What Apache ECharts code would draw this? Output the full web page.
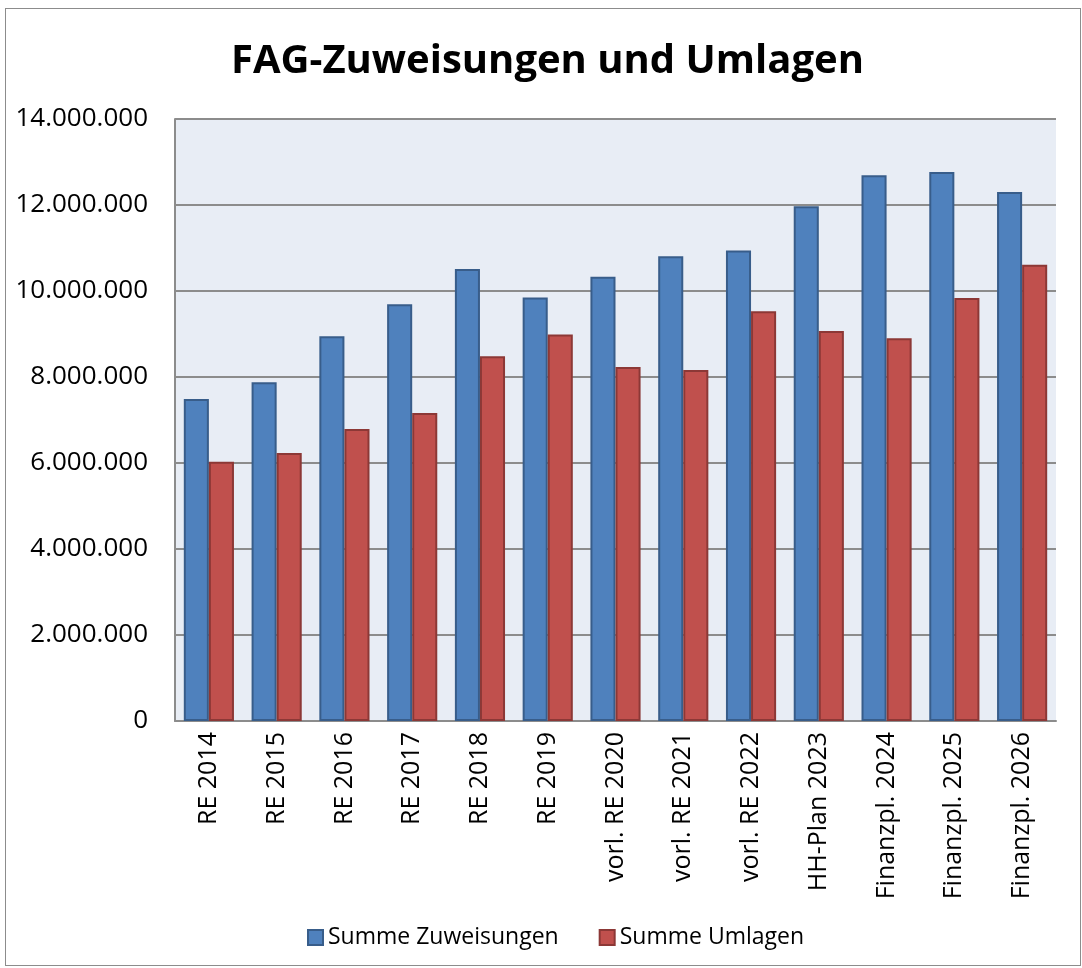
<!DOCTYPE html>
<html>
<head>
<meta charset="utf-8">
<script src="https://cdn.jsdelivr.net/npm/echarts@6/dist/echarts.min.js"></script>
<style>
  html, body { margin: 0; padding: 0; background: #fff; }
  #frame { position: absolute; left: 5px; top: 8px; width: 1074px; height: 956px; border: 1px solid #8c8c8c; }
  #chart { position: absolute; left: 0; top: 0; width: 1082px; height: 968px; }
</style>
</head>
<body>
<div id="frame"></div>
<div id="chart"></div>
<script>
const categories = ["RE 2014", "RE 2015", "RE 2016", "RE 2017", "RE 2018", "RE 2019",
  "vorl. RE 2020", "vorl. RE 2021", "vorl. RE 2022", "HH-Plan 2023",
  "Finanzpl. 2024", "Finanzpl. 2025", "Finanzpl. 2026"];
const zuweisungen = [7490000, 7880000, 8950000, 9690000, 10510000, 9850000,
  10330000, 10810000, 10940000, 11970000, 12690000, 12770000, 12300000];
const umlagen = [6030000, 6230000, 6790000, 7160000, 8480000, 8990000,
  8230000, 8160000, 9530000, 9070000, 8900000, 9840000, 10610000];

const font = "Open Sans";

function fmt(v) {
  return String(v).replace(/\B(?=(\d{3})+(?!\d))/g, ".");
}

const chart = echarts.init(document.getElementById("chart"));
chart.setOption({
  animation: false,
  title: {
    text: "FAG-Zuweisungen und Umlagen",
    left: 226,
    top: 37,
    textStyle: { fontFamily: font, fontSize: 40, fontWeight: "bold", color: "#000" }
  },
  legend: {
    bottom: 14,
    left: 302,
    icon: "rect",
    itemWidth: 15,
    itemHeight: 15,
    itemGap: 40,
    textStyle: { fontFamily: font, fontSize: 23, color: "#000" },
    data: ["Summe Zuweisungen", "Summe Umlagen"]
  },
  grid: {
    left: 175, right: 26, top: 119, bottom: 247,
    show: true, backgroundColor: "#e8edf5", borderWidth: 0
  },
  xAxis: {
    type: "category",
    data: categories,
    axisLine: { lineStyle: { color: "#8c8c8c", width: 2 } },
    axisTick: { show: false },
    axisLabel: { rotate: 90, fontFamily: font, fontSize: 25, color: "#000", margin: 11 }
  },
  yAxis: {
    type: "value",
    min: 0, max: 14000000, interval: 2000000,
    axisLine: { show: true, lineStyle: { color: "#8c8c8c", width: 2 } },
    axisTick: { show: false },
    splitLine: { lineStyle: { color: "#8c8c8c", width: 2 } },
    axisLabel: { fontFamily: font, fontSize: 26, color: "#000", margin: 27, formatter: fmt }
  },
  series: [
    {
      name: "Summe Zuweisungen", type: "bar", data: zuweisungen,
      barGap: "0%", barCategoryGap: "26%",
      itemStyle: { color: "#4f81bd", borderColor: "#385d8a", borderWidth: 2 }
    },
    {
      name: "Summe Umlagen", type: "bar", data: umlagen,
      itemStyle: { color: "#c0504d", borderColor: "#8c3836", borderWidth: 2 }
    }
  ]
});
</script>
</body>
</html>
